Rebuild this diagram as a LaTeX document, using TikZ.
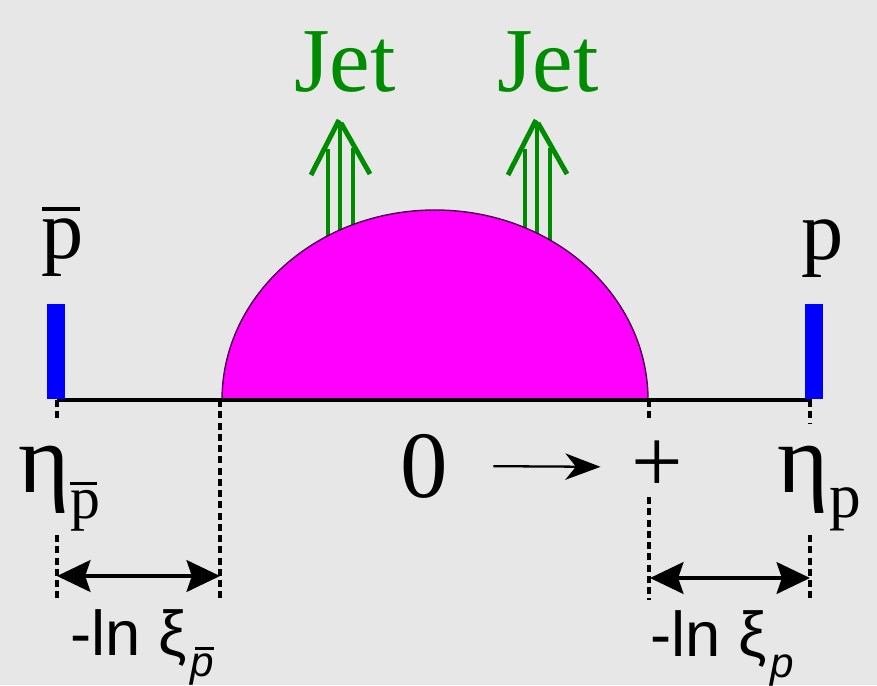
\documentclass[tikz,border=0pt]{standalone}
\usepackage{fontspec}
\setmainfont{Liberation Serif}
\setsansfont{Liberation Sans}
\usetikzlibrary{arrows.meta,positioning,calc}
\definecolor{marble}{RGB}{231,231,231}
\definecolor{jetgreen}{RGB}{0,140,0}
\definecolor{dome}{RGB}{255,0,255}
\definecolor{beamblue}{RGB}{0,0,255}
\newcommand{\pbar}{\leavevmode\rlap{\rule[0.56em]{0.45em}{0.045em}}p}
\newcommand{\pbarit}{\leavevmode\rlap{\hspace{0.12em}\rule[0.62em]{0.45em}{0.07em}}p}

\begin{document}
\begin{tikzpicture}[
  x=0.01cm, y=-0.01cm,
  lbl/.style={inner sep=0pt},
  beam/.style={fill=beamblue, inner sep=0pt, minimum width=0.18cm, minimum height=0.95cm},
  track/.style={line width=1.1pt},
  guide/.style={line width=0.9pt, dash pattern=on 2pt off 1.2pt},
  dimarr/.style={{Stealth[length=9.5pt, width=9pt, inset=1.5pt]}-{Stealth[length=9.5pt, width=9pt, inset=1.5pt]}, line width=1.1pt},
  flow/.style={-{Stealth[length=10pt, width=7.5pt, inset=3pt]}, line width=0.65pt},
  jetline/.style={jetgreen, line width=1.4pt}
]
\fill[marble] (0,0) rectangle (877,685);
\useasboundingbox (0,0) rectangle (877,685);

% jet arrows, partly hidden by the dome
\foreach \tx in {340,537} {
  \coordinate (tip) at (\tx,122);
  \draw[jetline] (tip) -- ++(0,130);
  \draw[jetline] ($(tip)+(-12,27)$) -- ++(0,110);
  \draw[jetline] ($(tip)+(13,26)$) -- ++(0,110);
  \draw[jetline] ($(tip)+(-29,53)$) -- ($(tip)+(-1,-2)$);
  \draw[jetline] ($(tip)+(1,1)$) -- ($(tip)+(30,52)$);
}
\node[lbl, jetgreen, font=\fontsize{26}{26}\selectfont, anchor=base] (jetL) at (345,91) {Jet};
\node[lbl, jetgreen, font=\fontsize{26}{26}\selectfont, anchor=base] (jetR) at (548,91) {Jet};

\draw[fill=dome, draw=black!70!dome, line width=0.4pt]
  (222,400) arc[start angle=180, end angle=360, x radius=213, y radius=190] -- cycle;

\coordinate (mL) at (57,400);
\coordinate (mXiL) at (220,400);
\coordinate (mXiR) at (649,400);
\coordinate (mR) at (810,400);

\draw[guide] (mL) -- ++(0,22);
\draw[guide] ($(mL)+(0,135)$) -- ++(0,65);
\draw[guide] (mXiL) -- ++(0,200);
\draw[guide] (mXiR) -- ++(0,22);
\draw[guide] ($(mXiR)+(0,97)$) -- ++(0,103);
\draw[guide] (mR) -- ++(0,23);
\draw[guide] ($(mR)+(0,135)$) -- ++(0,67);

\draw[track] (mL) -- ($(mR)+(2,0)$);
\node[beam, anchor=south] (beamL) at (56,400) {};
\node[beam, anchor=south] (beamR) at (814,400) {};

\node[lbl, font=\fontsize{24}{24}\selectfont, anchor=base] (pbarlbl) at (63,258) {\pbar};
\node[lbl, font=\fontsize{24}{24}\selectfont, anchor=base] (plbl) at (823,259) {p};

\node[lbl, font=\fontsize{28}{28}\selectfont, anchor=base west] (etaL) at (18,492)
  {η\raisebox{-7.5pt}{\fontsize{17}{17}\selectfont\pbar}};
\node[lbl, font=\fontsize{28}{28}\selectfont, anchor=base west] (etaR) at (777,492)
  {η\raisebox{-7.2pt}{\fontsize{18}{18}\selectfont p}};

\node[lbl, font=\fontsize{27}{27}\selectfont, anchor=base] (zero) at (424,497) {0};
\node[lbl, font=\fontsize{26}{26}\selectfont] (plus) at (657,467) {+};
\draw[flow] (zero.east) -- (plus.west)
  [shorten <=0.45cm, shorten >=0.3cm];

\draw[dimarr] ($(mL)+(0,176)$) -- ($(mXiL)+(0,176)$);
\draw[dimarr] ($(mXiR)+(1,178)$) -- ($(mR)+(0,178)$);

\node[lbl, font=\sffamily\fontsize{18}{18}\selectfont, anchor=base] (xiL) at (142,655)
  {-ln ξ\hspace{1pt}\raisebox{-6pt}{\fontsize{12}{12}\selectfont\itshape\pbarit}};
\node[lbl, font=\sffamily\fontsize{18}{18}\selectfont, anchor=base] (xiR) at (722,656)
  {-ln ξ\hspace{1pt}\raisebox{-6pt}{\fontsize{12}{12}\selectfont\itshape p}};
\end{tikzpicture}
\end{document}
